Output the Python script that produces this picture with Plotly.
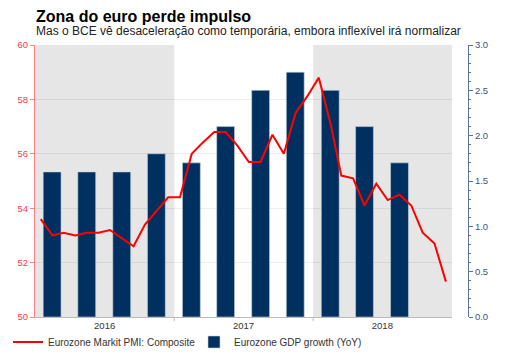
import plotly.graph_objects as go

title = "Zona do euro perde impulso"
subtitle = "Mas o BCE vê desaceleração como temporária, embora inflexível irá normalizar"

pmi_months = [f"{y}-{m:02d}-16" for y in (2016, 2017, 2018) for m in range(1, 13)]
pmi_values = [53.6, 53.0, 53.1, 53.0, 53.1, 53.1, 53.2, 52.9, 52.6, 53.4, 53.9, 54.4,
              54.4, 56.0, 56.4, 56.8, 56.8, 56.3, 55.7, 55.7, 56.7, 56.0, 57.5, 58.1,
              58.8, 57.1, 55.2, 55.1, 54.1, 54.9, 54.3, 54.5, 54.1, 53.1, 52.7, 51.3]

gdp_quarters = ["2016-02-15", "2016-05-16", "2016-08-16", "2016-11-15",
                "2017-02-15", "2017-05-16", "2017-08-16", "2017-11-15",
                "2018-02-15", "2018-05-16", "2018-08-16"]
gdp_values = [1.6, 1.6, 1.6, 1.8, 1.7, 2.1, 2.5, 2.7, 2.5, 2.1, 1.7]

year_ticks = ["2016-07-02", "2017-07-02", "2018-07-02"]
year_labels = ["2016", "2017", "2018"]
shade_spans = [("2016-01-01", "2017-01-01"), ("2018-01-01", "2019-01-08")]

FONT = "Liberation Sans, Arial, sans-serif"

fig = go.Figure()
# bars on the (right-hand) GDP axis, drawn first
fig.add_trace(go.Bar(x=gdp_quarters, y=gdp_values, name="Eurozone GDP growth (YoY)",
                     marker=dict(color="#00305f", line=dict(color="#c8d2dc", width=0.6)),
                     width=47 * 86400000, yaxis="y"))
# PMI line on the overlaying (left-hand) axis, drawn on top
fig.add_trace(go.Scatter(x=pmi_months, y=pmi_values, mode="lines",
                         name="Eurozone Markit PMI: Composite",
                         line=dict(color="#ff0000", width=2), yaxis="y2"))

shapes = []
for a, b in shade_spans:
    shapes.append(dict(type="rect", xref="x", yref="paper", x0=a, x1=b, y0=0, y1=1,
                       fillcolor="#e6e6e6", line=dict(width=0), layer="below"))
for d in ["2017-01-01", "2018-01-01"]:
    shapes.append(dict(type="line", xref="x", yref="paper", x0=d, x1=d, y0=0, y1=-0.015,
                       line=dict(color="#bbbbbb", width=1)))

fig.update_layout(
    width=519, height=351,
    margin=dict(l=27, r=59, t=37, b=42, autoexpand=False),
    paper_bgcolor="white", plot_bgcolor="white",
    font=dict(family=FONT, size=10, color="#333333"),
    barmode="overlay",
    showlegend=True,
    legend=dict(orientation="h", xref="container", yref="container",
                x=0.0, y=17 / 351, yanchor="middle", xanchor="left",
                font=dict(size=10, color="#333333"), traceorder="reversed",
                itemwidth=30, entrywidth=141, bgcolor="rgba(0,0,0,0)"),
    xaxis=dict(domain=[0, 417 / 433], range=["2016-01-01", "2019-01-01"], type="date",
               tickvals=year_ticks, ticktext=year_labels, ticks="", showgrid=False,
               showline=True, linecolor="#bbbbbb", linewidth=1, automargin=False,
               tickfont=dict(size=9.5, color="#333333"), zeroline=False),
    yaxis=dict(range=[0, 3], dtick=0.5, tickformat=".1f", side="right",
               anchor="free", position=1, showgrid=False, showline=True,
               linecolor="#5a7396", linewidth=1, ticks="outside", ticklen=4,
               tickcolor="#5a7396", tickfont=dict(size=9.5, color="#3d5275"),
               minor=dict(dtick=0.1, ticks="outside", ticklen=2, tickcolor="#5a7396"),
               zeroline=False, automargin=False),
    yaxis2=dict(range=[50, 60], dtick=2, overlaying="y", side="left", anchor="x",
                showgrid=True, gridcolor="rgba(0,0,0,0.07)",
                gridwidth=1, showline=True, linecolor="#ff8080", linewidth=1,
                ticks="outside", ticklen=4, tickcolor="#ff8080",
                tickfont=dict(size=9.5, color="#ff4040"), zeroline=False,
                automargin=False),
    shapes=shapes,
    annotations=[
        dict(text="<b>" + title + "</b>", xref="paper", yref="paper", x=0, y=1.103,
             xanchor="left", yanchor="middle", showarrow=False, borderpad=0,
             font=dict(size=16, color="#000000", family=FONT)),
        dict(text=subtitle, xref="paper", yref="paper", x=0, y=1.051, xanchor="left",
             yanchor="middle", showarrow=False, borderpad=0,
             font=dict(size=12, color="#222222", family=FONT)),
    ],
)

fig.write_html("out.html")
